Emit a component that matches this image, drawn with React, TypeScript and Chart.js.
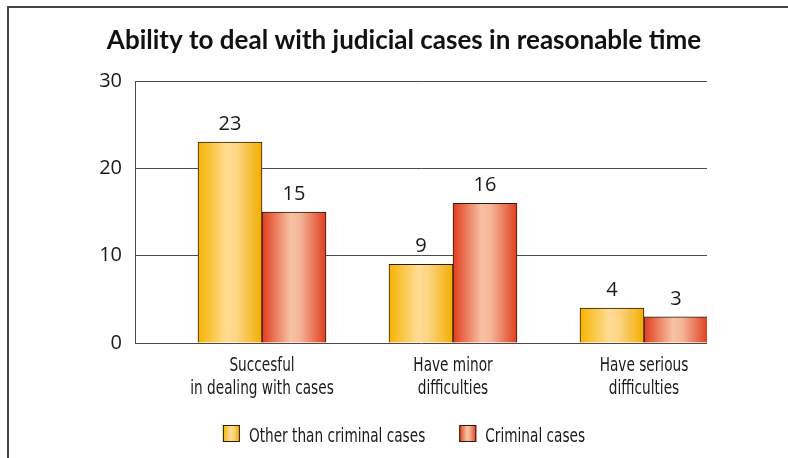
import React, { useEffect, useRef } from 'react';
import { Chart, registerables } from 'chart.js';

Chart.register(...registerables);

const chartTitle = 'Ability to deal with judicial cases in reasonable time';
const categories: string[][] = [
  ['Succesful', 'in dealing with cases'],
  ['Have minor', 'difficulties'],
  ['Have serious', 'difficulties'],
];
const seriesNames = ['Other than criminal cases', 'Criminal cases'];
const otherValues = [23, 9, 4];
const criminalValues = [15, 16, 3];
const yTickValues = [0, 10, 20, 30];

const W = 788;
const H = 458;
const BAR_W = 64;
const CENTER_X = 404;
const NARROW = '"Liberation Sans Narrow", "DejaVu Sans Condensed", "Roboto Condensed", "Arial Narrow", sans-serif';
const NARROW_SIZE = 20;
const SQUEEZE = 0.76;

const yellowStops: [number, string][] = [
  [0, '#f6b300'],
  [0.45, '#fedc93'],
  [0.6, '#fdd585'],
  [1, '#f3ad00'],
];
const redStops: [number, string][] = [
  [0, '#e03c1c'],
  [0.45, '#f8c2a4'],
  [0.6, '#f5b496'],
  [1, '#df3e1e'],
];

function makeGrad(ctx: CanvasRenderingContext2D, x0: number, w: number, stops: [number, string][]) {
  const g = ctx.createLinearGradient(x0, 0, x0 + w, 0);
  stops.forEach(([o, c]) => g.addColorStop(o, c));
  return g;
}

function barFill(stops: [number, string][], side: number) {
  return (c: any) => {
    const chart = c.chart;
    const xs = chart.scales && chart.scales.x;
    if (!xs || c.type !== 'data' || !chart.chartArea) return stops[1][1];
    const center = xs.getPixelForValue(c.dataIndex);
    const x0 = side === 0 ? center - BAR_W : center;
    return makeGrad(chart.ctx, x0, BAR_W, stops);
  };
}

function squeezedText(ctx: CanvasRenderingContext2D, text: string, x: number, y: number, align: CanvasTextAlign) {
  ctx.save();
  ctx.translate(x, y);
  ctx.scale(SQUEEZE, 1);
  ctx.textAlign = align;
  ctx.textBaseline = 'alphabetic';
  ctx.fillText(text, 0, 0);
  ctx.restore();
}

const decorPlugin = {
  id: 'decor',
  beforeDraw(chart: any) {
    const ctx = chart.ctx as CanvasRenderingContext2D;
    ctx.save();
    ctx.fillStyle = '#ffffff';
    ctx.fillRect(0, 0, W, H);
    ctx.fillStyle = '#454545';
    ctx.fillRect(7, 6, W - 7, 2);
    ctx.fillRect(7, 6, 2, H - 6);
    ctx.fillStyle = '#111111';
    ctx.font = 'bold 26px Lato, "Open Sans", sans-serif';
    ctx.textAlign = 'center';
    ctx.textBaseline = 'alphabetic';
    ctx.fillText(chartTitle, CENTER_X, 49);
    ctx.restore();
  },
  afterDatasetsDraw(chart: any) {
    const ctx = chart.ctx as CanvasRenderingContext2D;
    ctx.save();
    ctx.fillStyle = '#1a1a1a';
    ctx.font = '20px "Open Sans", sans-serif';
    ctx.textAlign = 'center';
    ctx.textBaseline = 'alphabetic';
    chart.data.datasets.forEach((ds: any, di: number) => {
      const meta = chart.getDatasetMeta(di);
      meta.data.forEach((el: any, i: number) => {
        const v = ds.data[i].y;
        ctx.fillText(String(v), el.x, el.y - 12);
      });
    });
    ctx.restore();
  },
  afterDraw(chart: any) {
    const ctx = chart.ctx as CanvasRenderingContext2D;
    ctx.save();
    ctx.font = NARROW_SIZE + 'px ' + NARROW;
    ctx.fillStyle = '#1a1a1a';
    // category labels, placed at the x scale's tick pixels
    const xs = chart.scales.x;
    const base = chart.chartArea.bottom;
    xs.ticks.forEach((t: any, i: number) => {
      const px = xs.getPixelForTick(i);
      const lines = categories[Math.round(t.value)] || [];
      lines.forEach((line, li) => {
        squeezedText(ctx, line, px, base + 28 + li * 23, 'center');
      });
    });
    // legend
    const boxW = 17;
    const boxH = 17;
    const gapText = 9;
    const gapItems = 34;
    const widths = seriesNames.map((s) => boxW + gapText + ctx.measureText(s).width * SQUEEZE);
    const total = widths[0] + gapItems + widths[1];
    let x = CENTER_X - total / 2;
    const top = 425;
    const stopsList = [yellowStops, redStops];
    seriesNames.forEach((name, i) => {
      ctx.fillStyle = makeGrad(ctx, x, boxW, stopsList[i]);
      ctx.fillRect(x, top, boxW, boxH);
      ctx.strokeStyle = '#2a1a0a';
      ctx.lineWidth = 1;
      ctx.strokeRect(x + 0.5, top + 0.5, boxW - 1, boxH - 1);
      ctx.fillStyle = '#1a1a1a';
      squeezedText(ctx, name, x + boxW + gapText, top + boxH, 'left');
      x += widths[i] + gapItems;
    });
    ctx.restore();
  },
};

export default function App() {
  const ref = useRef<HTMLCanvasElement | null>(null);

  useEffect(() => {
    document.body.style.margin = '0';
    const canvas = ref.current;
    if (!canvas) return;
    const chart = new Chart(canvas, {
      type: 'bar',
      data: {
        datasets: [
          {
            label: seriesNames[0],
            data: otherValues.map((v, i) => ({ x: i, y: v })),
            backgroundColor: barFill(yellowStops, 0),
            borderColor: '#2a1a0a',
            borderWidth: 1,
            barThickness: BAR_W,
          },
          {
            label: seriesNames[1],
            data: criminalValues.map((v, i) => ({ x: i, y: v })),
            backgroundColor: barFill(redStops, 1),
            borderColor: '#2a1a0a',
            borderWidth: 1,
            barThickness: BAR_W,
          },
        ] as any,
      },
      options: {
        responsive: false,
        animation: false,
        events: [],
        layout: { padding: { top: 81, right: 81, left: 0, bottom: 0 } },
        plugins: {
          legend: { display: false },
          title: { display: false },
          tooltip: { enabled: false },
        },
        scales: {
          x: {
            type: 'linear',
            offset: false,
            min: -0.665,
            max: 2.33,
            grid: { display: false },
            border: { display: false },
            afterBuildTicks: (scale: any) => {
              scale.ticks = categories.map((_, i) => ({ value: i }));
            },
            afterFit: (scale: any) => {
              scale.height = 115;
            },
            ticks: {
              display: false,
              autoSkip: false,
              maxRotation: 0,
              minRotation: 0,
            },
          },
          y: {
            min: 0,
            max: 30,
            afterBuildTicks: (scale: any) => {
              scale.ticks = yTickValues.map((v) => ({ value: v }));
            },
            afterFit: (scale: any) => {
              scale.width = 135;
            },
            grid: { color: '#4a4a4a', lineWidth: 1, drawTicks: false },
            border: { display: true, color: '#4a4a4a', width: 1 },
            ticks: {
              padding: 13,
              color: '#1a1a1a',
              font: { family: '"Open Sans", sans-serif', size: 20 },
            },
          },
        },
      } as any,
      plugins: [decorPlugin],
    });
    return () => chart.destroy();
  }, []);

  return (
    <div style={{ position: 'absolute', left: 0, top: 0, width: W, height: H, background: '#fff' }}>
      <canvas ref={ref} width={W} height={H} style={{ display: 'block', width: W, height: H }} />
    </div>
  );
}
